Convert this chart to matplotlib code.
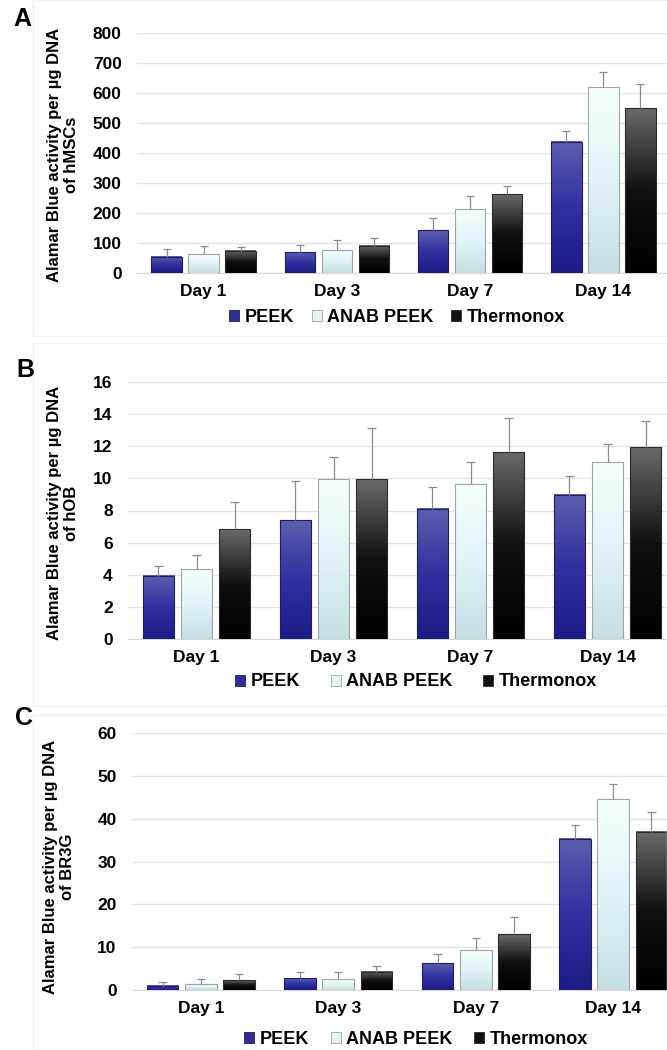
import numpy as np
import matplotlib
matplotlib.use("Agg")
import matplotlib.pyplot as plt
from matplotlib.colors import LinearSegmentedColormap
from matplotlib.patches import Patch, Rectangle

plt.rcParams['font.family'] = ['Liberation Sans', 'DejaVu Sans']
plt.rcParams['font.weight'] = 'bold'

days = ["Day 1", "Day 3", "Day 7", "Day 14"]
groups = ["PEEK", "ANAB PEEK", "Thermonox"]

# panel A: hMSCs
a_peek = [55, 69, 142, 437]
a_anab = [64, 78, 214, 619]
a_thermo = [75, 91, 263, 549]
a_peek_sd = [25, 23, 40, 35]
a_anab_sd = [25, 33, 44, 52]
a_thermo_sd = [12, 27, 26, 80]

# panel B: hOB
b_peek = [3.93, 7.39, 8.10, 8.98]
b_anab = [4.35, 9.94, 9.65, 11.03]
b_thermo = [6.83, 9.96, 11.63, 11.95]
b_peek_sd = [0.64, 2.44, 1.36, 1.14]
b_anab_sd = [0.91, 1.36, 1.35, 1.14]
b_thermo_sd = [1.72, 3.19, 2.14, 1.63]

# panel C: BR3G
c_peek = [1.0, 2.7, 6.3, 35.3]
c_anab = [1.5, 2.5, 9.4, 44.6]
c_thermo = [2.25, 4.3, 13.0, 36.9]
c_peek_sd = [0.8, 1.4, 2.2, 3.3]
c_anab_sd = [1.0, 1.6, 2.8, 3.5]
c_thermo_sd = [1.4, 1.4, 4.1, 4.6]

# gradient colours (top -> bottom), edge colour
grads = [
    (["#5e5eae", "#3030a0", "#1c1c86"], "#1c1c6e"),
    (["#f6feff", "#e2f4f6", "#c4dfe2"], "#9aa6a9"),
    (["#6a6a6a", "#101010", "#000000"], "#2a2a2a"),
]
legend_colors = ["#2e2e98", "#e4f4f6", "#111111"]

W, H = 667, 1050
fig = plt.figure(figsize=(W / 100, H / 100), dpi=100)


def fx(px):
    return px / W


def fy(px):
    return 1 - px / H


def panel(rect, series, sds, ymax, ystep, ylabel, lab_xy, legend_xy, letter, letter_xy, colspace):
    left, top, width, bottom = rect
    ax = fig.add_axes([fx(left), fy(bottom), width / W, (bottom - top) / H])
    x = np.arange(len(days))
    off = 0.278
    bw = 0.23
    for i, (vals, sd) in enumerate(zip(series, sds)):
        xs = x + (i - 1) * off
        cols, edge = grads[i]
        cmap = LinearSegmentedColormap.from_list("g%d" % i, cols)
        bars = ax.bar(xs, vals, width=bw, facecolor="none", edgecolor=edge,
                      linewidth=0.8, zorder=3)
        for b in bars:
            bx, by, bwid, bh = b.get_x(), b.get_y(), b.get_width(), b.get_height()
            ax.imshow(np.linspace(0, 1, 256)[:, None], extent=[bx, bx + bwid, by, by + bh],
                      cmap=cmap, aspect="auto", origin="upper", zorder=2.5,
                      interpolation="bilinear")
        tops = np.array(vals) + np.array(sd)
        ax.vlines(xs, vals, tops, color="#8c8c8c", lw=0.9, zorder=4)
        ax.hlines(tops, xs - 0.03, xs + 0.03, color="#8c8c8c", lw=0.9, zorder=4)
    ax.set_xlim(-0.5, 3.5)
    ax.set_ylim(0, ymax)
    ax.set_aspect("auto")
    ax.set_yticks(np.arange(0, ymax + ystep / 2, ystep))
    ax.set_xticks(x)
    ax.set_xticklabels(days)
    ax.tick_params(axis="y", length=0, pad=11, labelsize=12.5)
    ax.tick_params(axis="x", length=0, pad=8, labelsize=12.5)
    ax.yaxis.grid(True, color="#e4e4e4", lw=1)
    ax.set_axisbelow(True)
    for s in ["top", "right", "left"]:
        ax.spines[s].set_visible(False)
    ax.spines["bottom"].set_color("#d8d8d8")
    ax.spines["bottom"].set_zorder(1)
    fig.text(fx(lab_xy[0]), fy(lab_xy[1]), ylabel, rotation=90, ha="center",
             va="center", multialignment="center", fontsize=12, fontweight="bold",
             linespacing=1.15)
    handles = [Patch(facecolor=c, edgecolor=grads[i][1], lw=0.6)
               for i, c in enumerate(legend_colors)]
    fig.legend(handles, groups, loc="center", ncol=3,
               bbox_to_anchor=(fx(legend_xy[0]), fy(legend_xy[1])), frameon=False,
               prop={"size": 13, "weight": "bold"}, handlelength=0.55,
               handleheight=0.55, handletextpad=0.3, columnspacing=colspace)
    fig.text(fx(letter_xy[0]), fy(letter_xy[1]), letter, fontsize=18,
             fontweight="bold", ha="center", va="center")
    return ax


# faint panel frames
for top, bot in [(0, 336), (343, 706), (715, 1050)]:
    fig.add_artist(Rectangle((fx(33), fy(bot)), (W - 33) / W, (bot - top) / H,
                             transform=fig.transFigure, fill=False,
                             edgecolor="#f0f0f0", lw=1))

panel((137, 33, 533, 273), [a_peek, a_anab, a_thermo],
      [a_peek_sd, a_anab_sd, a_thermo_sd], 800, 100,
      "Alamar Blue activity per µg DNA\nof hMSCs", (63, 155), (397, 317),
      "A", (22, 19), 1.0)

panel((128, 382, 548, 639), [b_peek, b_anab, b_thermo],
      [b_peek_sd, b_anab_sd, b_thermo_sd], 16, 2,
      "Alamar Blue activity per µg DNA\nof hOB", (63, 513), (416, 682),
      "B", (25, 370), 1.7)

panel((132, 733, 550, 990), [c_peek, c_anab, c_thermo],
      [c_peek_sd, c_anab_sd, c_thermo_sd], 60, 10,
      "Alamar Blue activity per µg DNA\nof BR3G", (59, 867), (416, 1039),
      "C", (24, 718), 1.2)

fig.savefig("out.png", dpi=100)
